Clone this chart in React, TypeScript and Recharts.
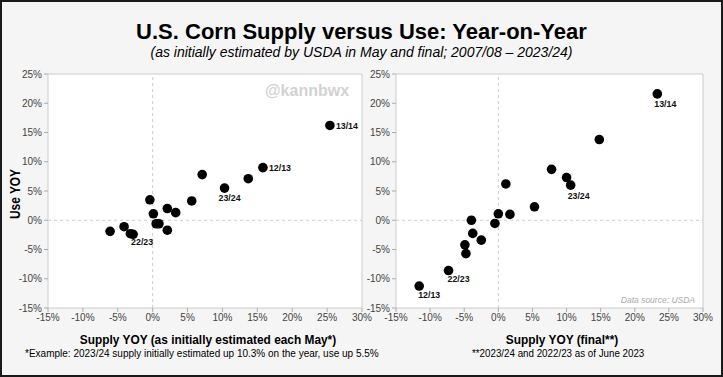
import React from 'react';
import {
  ScatterChart,
  Scatter,
  XAxis,
  YAxis,
  ReferenceArea,
  ReferenceLine,
} from 'recharts';

// supply / use year-on-year change, %, as first estimated in May
const mayX = [25.4, 15.8, 13.7, 7.1, 10.3, 5.6, -0.4, 2.1, 3.3, 0.1, 0.5, 0.9, 2.1, -6.1, -4.1, -3.2, -2.8];
const mayY = [16.2, 9.0, 7.1, 7.8, 5.5, 3.3, 3.5, 2.0, 1.3, 1.1, -0.6, -0.6, -1.7, -1.9, -1.1, -2.3, -2.4];
const mayLabels = ['13/14', '12/13', '', '', '23/24', '', '', '', '', '', '', '', '', '', '', '', '22/23'];

// final numbers
const finalX = [23.3, 14.8, 7.8, 10.0, 10.6, 1.1, 5.3, 0.0, 1.7, -0.5, -3.95, -3.75, -2.5, -4.9, -4.75, -7.3, -11.6];
const finalY = [21.6, 13.8, 8.7, 7.3, 6.0, 6.2, 2.3, 1.1, 1.0, -0.55, 0.0, -2.25, -3.4, -4.2, -5.7, -8.6, -11.25];
const finalLabels = ['13/14', '', '', '', '23/24', '', '', '', '', '', '', '', '', '', '', '22/23', '12/13'];

const xTicks = [-15, -10, -5, 0, 5, 10, 15, 20, 25, 30];
const yTicks = [-15, -10, -5, 0, 5, 10, 15, 20, 25];

const FONT = "'Liberation Sans', Arial, sans-serif";

type Place = [number, number, 'start' | 'middle'];

const mayPlace: Record<string, Place> = {
  '13/14': [6, 3.5, 'start'],
  '12/13': [6, 3.5, 'start'],
  '23/24': [5, 12.5, 'middle'],
  '22/23': [9, 10.5, 'middle'],
};
const finalPlace: Record<string, Place> = {
  '13/14': [8, 13.5, 'middle'],
  '23/24': [8, 13.5, 'middle'],
  '22/23': [10, 11.5, 'middle'],
  '12/13': [10, 11.5, 'middle'],
};

const zip = (xs: number[], ys: number[], labels: string[]) =>
  xs.map((x, i) => ({ x, y: ys[i], label: labels[i] }));

const dot = (place: Record<string, Place>) => (props: any) => {
  const { cx, cy, payload } = props;
  const p = payload.label ? place[payload.label] : null;
  return (
    <g>
      <circle cx={cx} cy={cy} r={4.8} fill="#000" />
      {p && (
        <text
          x={cx + p[0]}
          y={cy + p[1]}
          textAnchor={p[2]}
          fontFamily={FONT}
          fontWeight="bold"
          fontSize={8.8}
          fill="#111"
        >
          {payload.label}
        </text>
      )}
    </g>
  );
};

type PanelProps = {
  data: { x: number; y: number; label: string }[];
  left: number;
  width: number;
  axisWidth: number;
  rightPad: number;
  place: Record<string, Place>;
};

function Panel({ data, left, width, axisWidth, rightPad, place }: PanelProps) {
  const tick = { fontSize: 10, fill: '#444', fontFamily: FONT };
  return (
    <div style={{ position: 'absolute', left, top: 0 }}>
      <ScatterChart width={width} height={330} margin={{ top: 74, right: rightPad, bottom: 2, left: 0 }}>
        <XAxis
          type="number"
          dataKey="x"
          domain={[-15, 30]}
          ticks={xTicks}
          tickFormatter={(v) => `${v}%`}
          tick={tick}
          tickSize={4}
          tickLine={{ stroke: '#aaa' }}
          axisLine={false}
          height={20}
          interval={0}
        />
        <YAxis
          type="number"
          dataKey="y"
          domain={[-15, 25]}
          ticks={yTicks}
          tickFormatter={(v) => `${v}%`}
          tick={tick}
          tickSize={4}
          tickLine={{ stroke: '#aaa' }}
          axisLine={false}
          width={axisWidth}
          interval={0}
        />
        <ReferenceArea x1={-15} x2={30} y1={-15} y2={25} fill="#fff" fillOpacity={1} stroke="#ccc" />
        <ReferenceLine x={0} stroke="#ccc" strokeDasharray="3 3" />
        <ReferenceLine y={0} stroke="#ccc" strokeDasharray="3 3" />
        <Scatter data={data} isAnimationActive={false} shape={dot(place)} />
      </ScatterChart>
    </div>
  );
}

// the source uses a condensed face; squeeze Liberation Sans horizontally
const narrow = (left: number, top: number, scale: number, origin: 'left' | 'center'): React.CSSProperties => ({
  position: 'absolute',
  left,
  top,
  whiteSpace: 'nowrap',
  transform: origin === 'center' ? `translateX(-50%) scaleX(${scale})` : `scaleX(${scale})`,
  transformOrigin: origin === 'center' ? 'center' : 'left',
});

export default function App() {
  return (
    <div
      style={{
        position: 'relative',
        width: 723,
        height: 377,
        background: '#f5f5f5',
        boxShadow: 'inset 0 0 0 2px #1a1a1a',
        overflow: 'hidden',
        fontFamily: FONT,
        color: '#000',
      }}
    >
      <style>{'body{margin:0}'}</style>
      <div style={{ position: 'absolute', top: 19, left: 0, width: 723, textAlign: 'center', fontSize: 22, fontWeight: 'bold', lineHeight: '26px' }}>
        U.S. Corn Supply versus Use: Year-on-Year
      </div>
      <div style={{ position: 'absolute', top: 43, left: 0, width: 723, textAlign: 'center', fontSize: 14, fontStyle: 'italic', lineHeight: '18px' }}>
        (as initially estimated by USDA in May and final; 2007/08 – 2023/24)
      </div>

      <Panel data={zip(mayX, mayY, mayLabels)} left={0} width={380} axisWidth={48} rightPad={18} place={mayPlace} />
      <Panel data={zip(finalX, finalY, finalLabels)} left={360} width={363} axisWidth={36} rightPad={20} place={finalPlace} />

      <div style={{ position: 'absolute', left: 265, top: 82, fontWeight: 'bold', fontSize: 16, color: '#d2d2d2' }}>
        @kannbwx
      </div>
      <div style={{ position: 'absolute', right: 28, top: 295, fontStyle: 'italic', fontSize: 8.5, color: '#aaa' }}>
        Data source: USDA
      </div>
      <div
        style={{
          position: 'absolute',
          left: 15,
          top: 194,
          transform: 'translate(-50%, -50%) rotate(-90deg) scaleX(0.85)',
          fontWeight: 'bold',
          fontSize: 14,
          whiteSpace: 'nowrap',
        }}
      >
        Use YOY
      </div>
      <div style={{ ...narrow(208, 332, 0.88, 'center'), fontWeight: 'bold', fontSize: 13.5 }}>
        Supply YOY (as initially estimated each May*)
      </div>
      <div style={{ ...narrow(562, 332, 0.88, 'center'), fontWeight: 'bold', fontSize: 13.5 }}>
        Supply YOY (final**)
      </div>
      <div style={{ ...narrow(25, 347, 0.87, 'left'), fontSize: 11.5 }}>
        *Example: 2023/24 supply initially estimated up 10.3% on the year, use up 5.5%
      </div>
      <div style={{ ...narrow(472, 347, 0.85, 'left'), fontSize: 11.5 }}>
        **2023/24 and 2022/23 as of June 2023
      </div>
    </div>
  );
}
